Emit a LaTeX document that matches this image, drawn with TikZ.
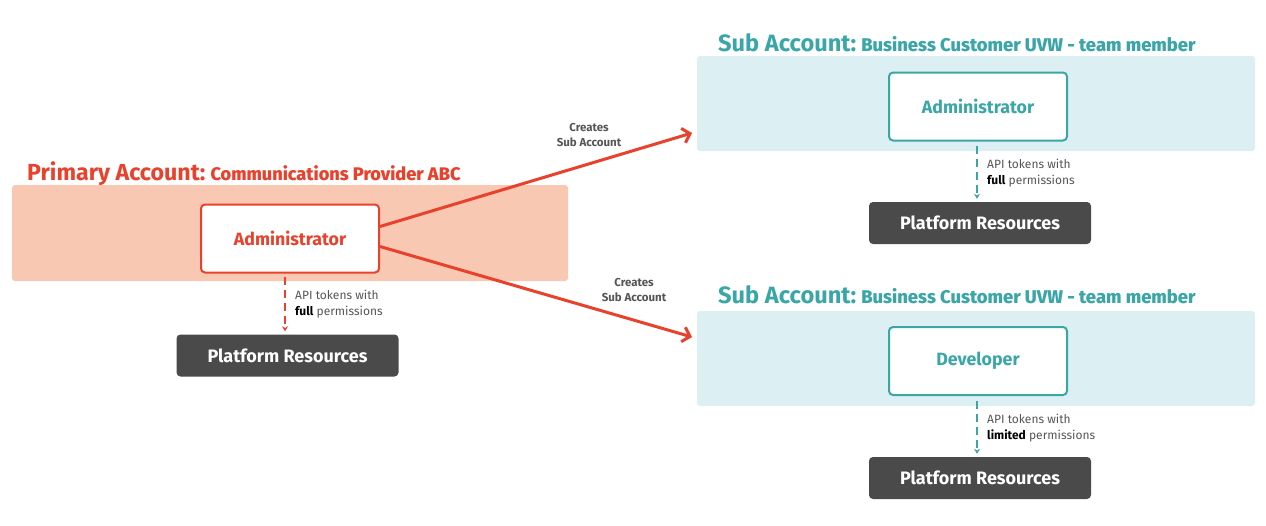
\documentclass[tikz,border=0pt]{standalone}
\usepackage{fontspec}
\setmainfont{Fira Sans}
\newfontfamily\medf{Fira Sans Medium}
\usetikzlibrary{arrows.meta,calc}
\definecolor{cred}{HTML}{E8412C}
\definecolor{cteal}{HTML}{3AA6A8}
\definecolor{csalmon}{HTML}{F8C8B2}
\definecolor{clteal}{HTML}{DCF0F3}
\definecolor{cdark}{HTML}{4A4A4A}
\definecolor{cgray}{HTML}{555555}
\tikzset{
  bgbox/.style={draw=none,rounded corners=3pt},
  rolebox/.style={draw,fill=white,line width=2pt,rounded corners=4pt,minimum width=178,minimum height=68,inner sep=0pt,font=\fontsize{17.8}{20}\selectfont\bfseries},
  resbox/.style={fill=cdark,rounded corners=4pt,minimum width=222,minimum height=42,inner sep=0pt,text=white,font=\fontsize{18}{20}\selectfont\bfseries},
  tokarrow/.style={line width=2pt,dash pattern=on 8pt off 5pt,-{Stealth[length=5pt,width=6pt]}},
  createarrow/.style={cred,line width=3pt,-{Straight Barb[length=7pt,width=15pt]}},
  toklabel/.style={anchor=north west,align=left,inner sep=0pt,text=cgray,font=\fontsize{12}{15.5}\selectfont},
  crlabel/.style={align=center,inner sep=0pt,text=cgray,font=\fontsize{11.5}{15.5}\selectfont\bfseries},
  ttl/.style={anchor=base west,inner sep=0pt},
}
\begin{document}
\begin{tikzpicture}[x=1pt,y=-1pt]
\useasboundingbox (0,0) rectangle (1266,525);
% backgrounds
\fill[csalmon,bgbox] (12,185) rectangle (568,281);
\fill[clteal,bgbox] (697,56) rectangle (1255,151);
\fill[clteal,bgbox] (697,311) rectangle (1255,406);
% titles
\node[ttl,text=cred] (t1) at (27,180) {\fontsize{23.2}{26}\selectfont\bfseries Primary Account:\hspace{5pt}\fontsize{18.2}{20}\selectfont\medf Communications Provider ABC};
\node[ttl,text=cteal] (t2) at (718,51) {\fontsize{23.6}{26}\selectfont\bfseries Sub Account:\hspace{5pt}\fontsize{18.4}{20}\selectfont\medf Business Customer UVW - team member};
\node[ttl,text=cteal] (t3) at (718,303) {\fontsize{23.6}{26}\selectfont\bfseries Sub Account:\hspace{5pt}\fontsize{18.4}{20}\selectfont\medf Business Customer UVW - team member};
% role boxes
\node[rolebox,draw=cred,text=cred] (adm) at (290,238.5) {Administrator};
\node[rolebox,draw=cteal,text=cteal] (sadm) at (978,106.5) {Administrator};
\node[rolebox,draw=cteal,text=cteal] (dev) at (978,361) {Developer};
% resources
\node[resbox] (r1) at (287.5,355.5) {Platform Resources};
\node[resbox] (r2) at (980,223) {Platform Resources};
\node[resbox] (r3) at (980,478) {Platform Resources};
% token arrows
\draw[tokarrow,cred] ($(adm.south)+(-5,3)$) -- ($(r1.north)+(-2.5,-3)$);
\draw[tokarrow,cteal] ($(sadm.south)+(-1,4)$) -- ($(r2.north)+(-3,-3)$);
\draw[tokarrow,cteal] ($(dev.south)+(-1,5)$) -- ($(r3.north)+(-3,-3)$);
\node[toklabel] (l1) at (295,290) {API tokens with\\\textcolor{black}{\bfseries full} permissions};
\node[toklabel] (l2) at (987,159) {API tokens with\\\textcolor{black}{\bfseries full} permissions};
\node[toklabel] (l3) at (987,414) {API tokens with\\\textcolor{black}{\bfseries limited} permissions};
% create arrows
\coordinate (e1) at (692,133);
\coordinate (e2) at (692,337);
\draw[createarrow] ($(adm.east)+(0,-12)$) -- (e1);
\draw[createarrow] ($(adm.east)+(0,8)$) -- (e2);
\node[crlabel] (c1) at (589,135) {Creates\\Sub Account};
\node[crlabel] (c2) at (634,290) {Creates\\Sub Account};
\end{tikzpicture}
\end{document}
